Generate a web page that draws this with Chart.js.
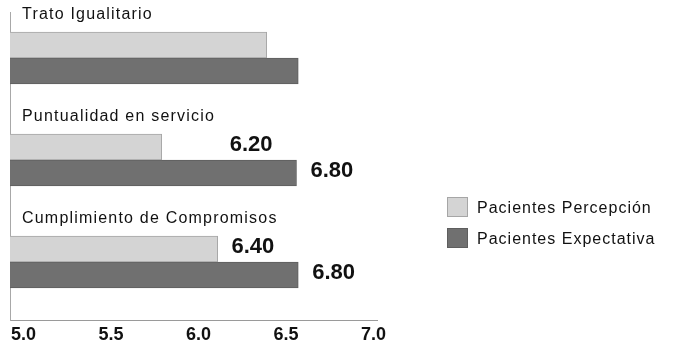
<!DOCTYPE html>
<html>
<head>
<meta charset="utf-8">
<script src="https://cdn.jsdelivr.net/npm/chart.js@4.4.1/dist/chart.umd.min.js"></script>
<style>
  html, body { margin: 0; padding: 0; background: #fff; }
  #wrap { width: 673px; height: 348px; }
</style>
</head>
<body>
<div id="wrap"><canvas id="chart" width="673" height="348"></canvas></div>
<script>
// valores (posición de las barras sobre el eje)
const categories = ["Trato Igualitario", "Puntualidad en servicio", "Cumplimiento de Compromisos"];
const seriesNames = ["Pacientes Percepción", "Pacientes Expectativa"];
const percepcion = [6.39, 5.79, 6.11];
const expectativa = [6.57, 6.56, 6.57];
// etiquetas impresas junto a las barras
const percepcionLabels = ["", "6.20", "6.40"];
const expectativaLabels = ["", "6.80", "6.80"];
const xTicks = [5.0, 5.5, 6.0, 6.5, 7.0];

const FONT = "'Liberation Sans', Arial, sans-serif";

const overlay = {
  id: "overlay",
  afterDatasetsDraw(chart) {
    const ctx = chart.ctx;
    const yScale = chart.scales.y;
    const area = chart.chartArea;
    ctx.save();
    ctx.fillStyle = "#111";
    ctx.textBaseline = "middle";

    // nombres de categoría encima de cada grupo
    ctx.letterSpacing = "1.2px";
    ctx.font = "16px " + FONT;
    ctx.textAlign = "left";
    categories.forEach((c, i) => {
      ctx.fillText(c, area.left + 12, yScale.getPixelForValue(i) - 43);
    });

    // etiquetas de valor
    const m0 = chart.getDatasetMeta(0);
    const m1 = chart.getDatasetMeta(1);
    ctx.letterSpacing = "0px";
    ctx.font = "bold 22px " + FONT;
    m1.data.forEach((bar, i) => {
      if (expectativaLabels[i]) {
        ctx.textAlign = "left";
        ctx.fillText(expectativaLabels[i], bar.x + 14, bar.y - 2);
      }
      if (percepcionLabels[i]) {
        ctx.textAlign = "right";
        ctx.fillText(percepcionLabels[i], bar.x - 24, m0.data[i].y - 2);
      }
    });

    // leyenda
    ctx.letterSpacing = "1px";
    ctx.font = "16px " + FONT;
    ctx.textAlign = "left";
    chart.data.datasets.forEach((ds, i) => {
      const bx = 447, by = 197 + i * 31;
      ctx.fillStyle = ds.backgroundColor;
      ctx.fillRect(bx, by, 21, 20);
      ctx.strokeStyle = ds.borderColor;
      ctx.lineWidth = 1;
      ctx.strokeRect(bx + 0.5, by + 0.5, 20, 19);
      ctx.fillStyle = "#111";
      ctx.fillText(ds.label, 477, by + 12);
    });
    ctx.restore();
  }
};

new Chart(document.getElementById("chart"), {
  type: "bar",
  data: {
    datasets: [
      {
        label: seriesNames[0],
        data: percepcion.map((v, i) => ({ x: v, y: i })),
        backgroundColor: "#d4d4d4",
        borderColor: "#a6a6a6",
        borderWidth: 1,
        barThickness: 26
      },
      {
        label: seriesNames[1],
        data: expectativa.map((v, i) => ({ x: v, y: i })),
        backgroundColor: "#707070",
        borderColor: "#5e5e5e",
        borderWidth: 1,
        barThickness: 26
      }
    ]
  },
  options: {
    indexAxis: "y",
    responsive: false,
    animation: false,
    layout: { padding: { left: 10, right: 296, top: 12, bottom: 0 } },
    plugins: {
      legend: { display: false },
      tooltip: { enabled: false }
    },
    scales: {
      x: {
        type: "linear",
        min: 4.923,
        max: 7.02,
        grid: { display: false, drawTicks: false },
        border: { display: true, color: "#9a9a9a", width: 1 },
        afterBuildTicks: (scale) => { scale.ticks = xTicks.map(v => ({ value: v })); },
        afterFit: (scale) => { scale.height = 28; },
        ticks: {
          color: "#111",
          padding: 4,
          maxRotation: 0,
          autoSkip: false,
          font: { family: FONT, size: 18, weight: "bold" },
          callback: (v) => Number(v).toFixed(1)
        }
      },
      y: {
        type: "linear",
        reverse: true,
        offset: false,
        min: -0.451,
        max: 2.569,
        grid: { display: false, drawTicks: false, offset: false },
        border: { display: true, color: "#a8a8a8", width: 1 },
        ticks: { display: false }
      }
    }
  },
  plugins: [overlay]
});
</script>
</body>
</html>
